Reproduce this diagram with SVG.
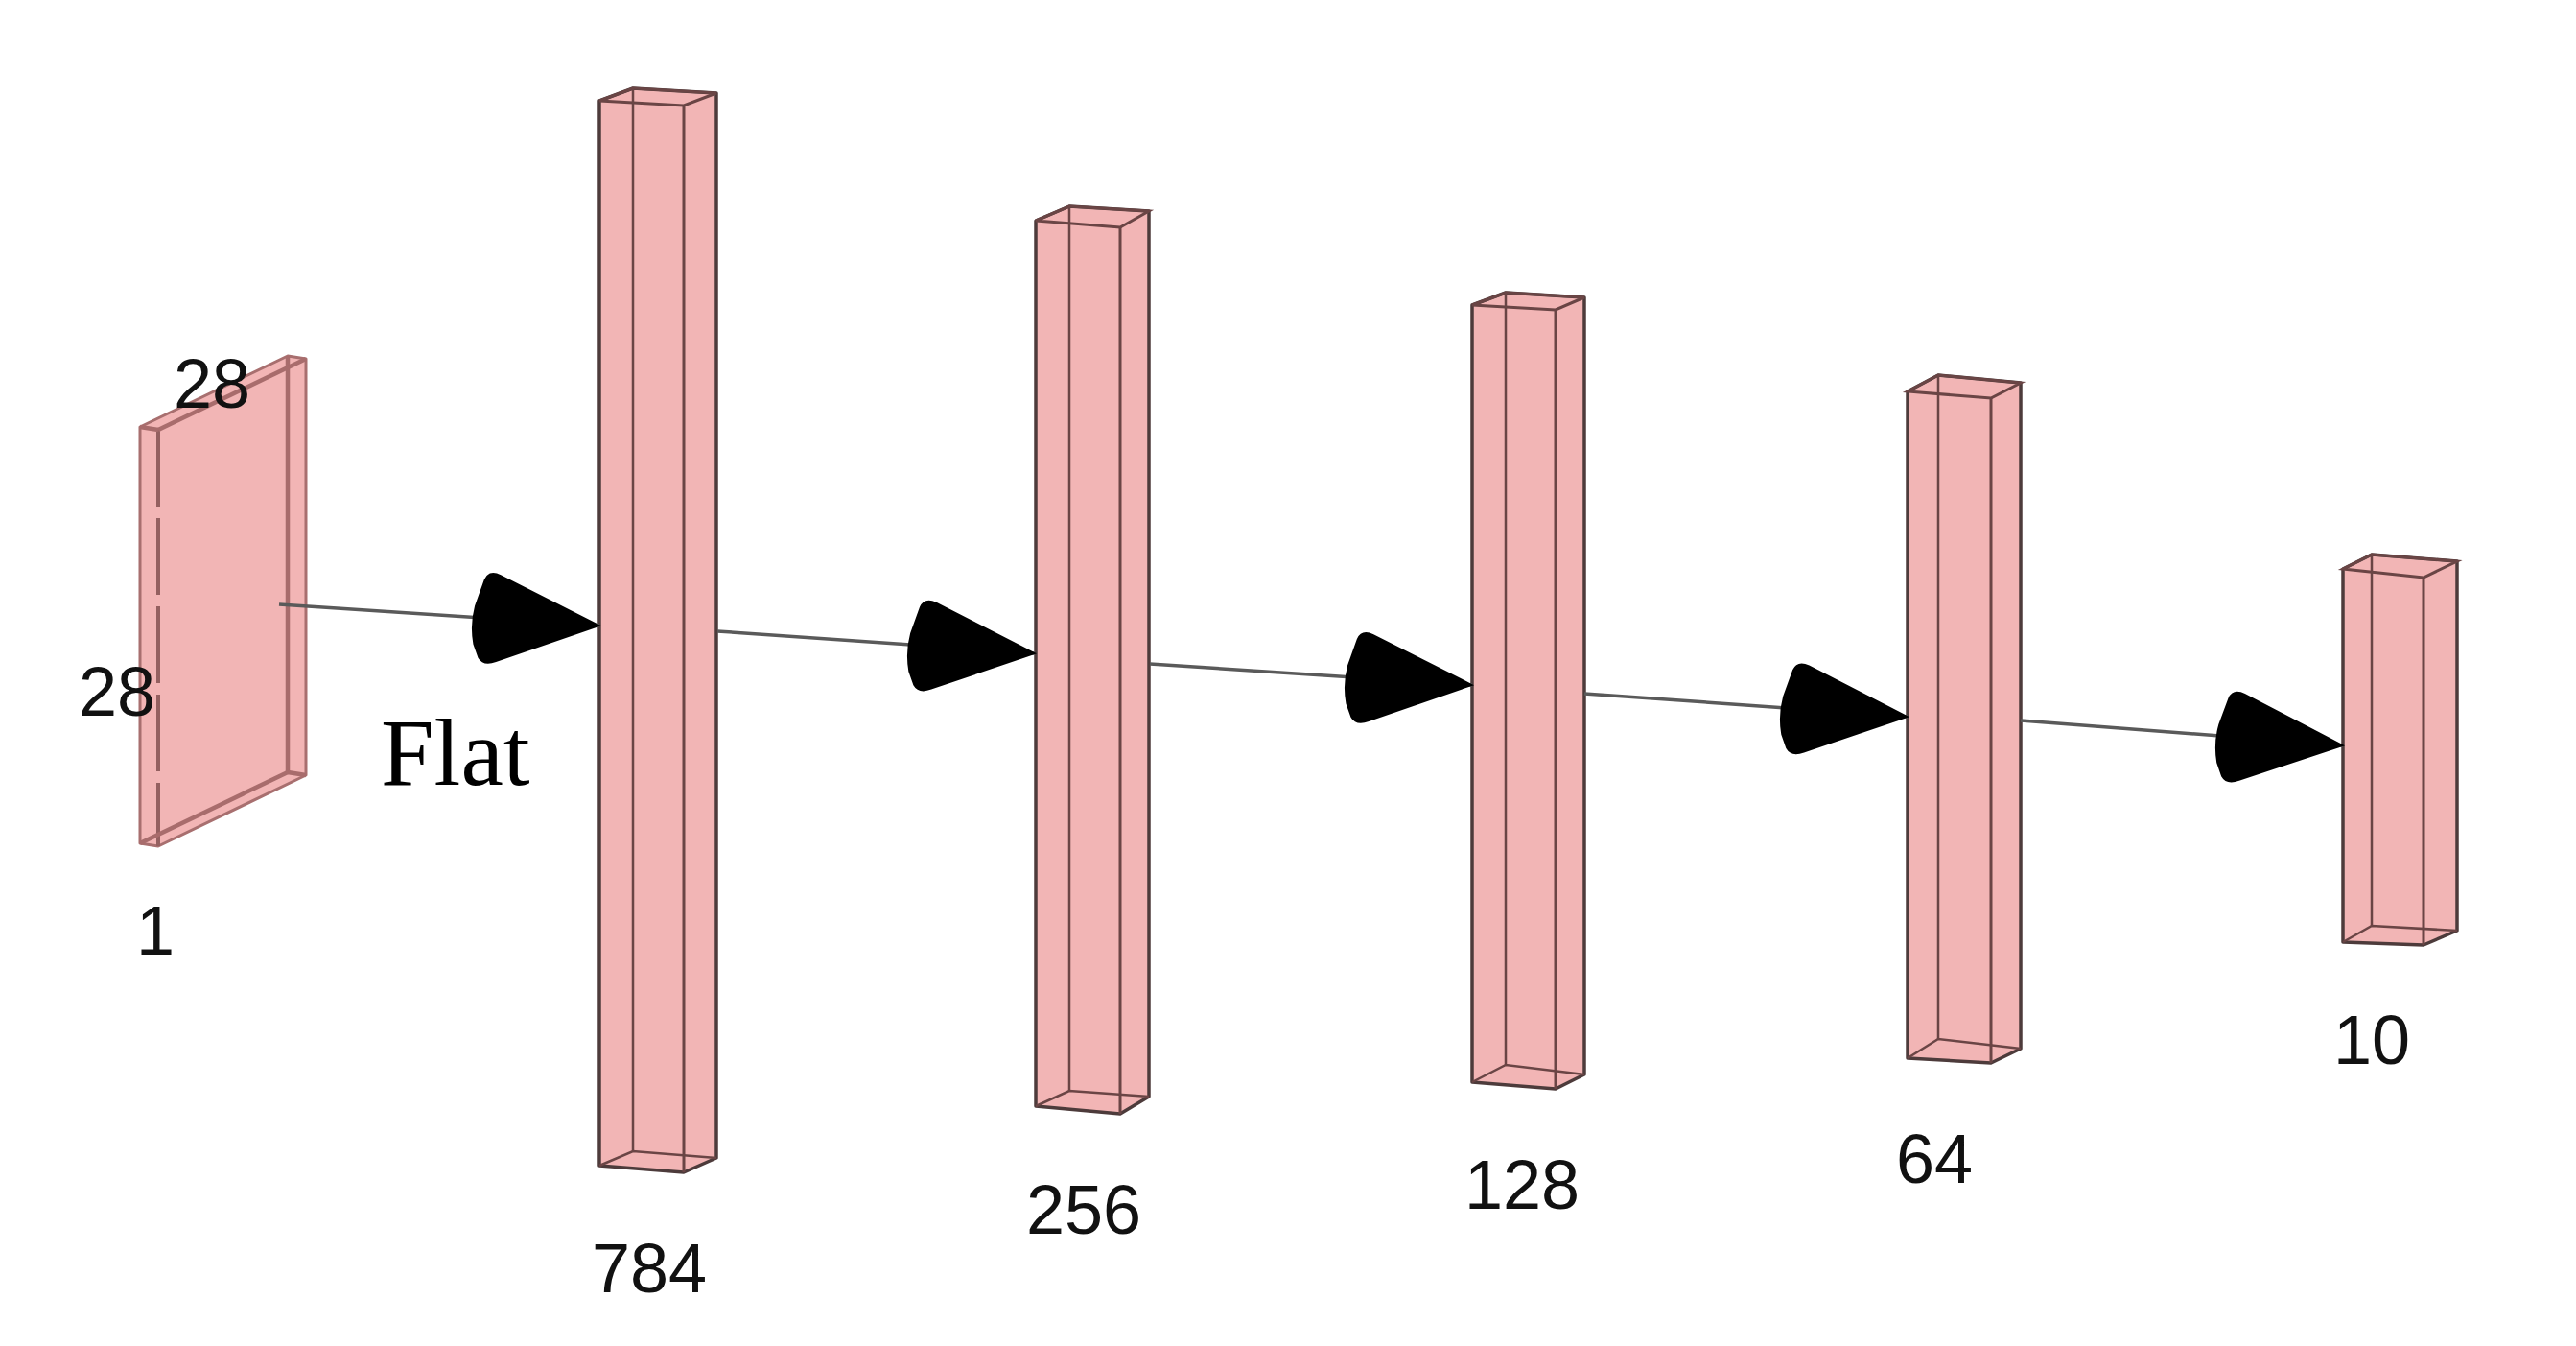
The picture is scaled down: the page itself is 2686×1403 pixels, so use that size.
<svg xmlns="http://www.w3.org/2000/svg" width="2686" height="1403" viewBox="0 0 2686 1403">
<defs>
<style>
.bg{fill:#ffffff}
.box{fill:#f2b5b5;stroke:#4d3b3b;stroke-width:3.5;stroke-linejoin:round}
.edge{fill:none;stroke:#6a4545;stroke-width:3}
.hid{fill:none;stroke:#6a4545;stroke-width:2.5}
.plate{fill:#f2b5b5;stroke:#a86f6f;stroke-width:3;stroke-linejoin:round}
.pedge{fill:none;stroke:#a86c6c;stroke-width:4.5}
.pdash{fill:none;stroke:#946060;stroke-width:4;stroke-dasharray:80 12}
.lbl{font-family:"Liberation Sans",Arial,sans-serif;font-size:72px;fill:#111}
.flat{font-family:"Liberation Serif","Times New Roman",serif;font-size:100px;fill:#000}
.conn{fill:none;stroke:#5a5a5a;stroke-width:3.5}
</style>
<marker id="head" markerUnits="userSpaceOnUse" viewBox="-140 -55 145 110" markerWidth="145" markerHeight="110" refX="0" refY="0" orient="auto" overflow="visible">
<path d="M2,0 L-106,-46 Q-119,-51 -123,-40 L-131,-12 Q-135,8 -130,28 L-124,42 Q-118,51 -105,45 Z" fill="#000"/>
</marker>
</defs>
<rect class="bg" x="0" y="0" width="2686" height="1403"/>

<g id="input">
<polygon class="plate" points="146,445 300,371 319,374 319,808 165,882 146,879"/>
<line class="pdash" x1="165" y1="448" x2="165" y2="882"/>
<line class="pedge" x1="300" y1="371" x2="300" y2="805"/>
<line class="pedge" x1="165" y1="448" x2="319" y2="374"/>
<line class="pedge" x1="146" y1="879" x2="300" y2="805"/>
<line class="pedge" x1="146" y1="445" x2="165" y2="448"/>
<line class="pedge" x1="300" y1="805" x2="319" y2="808"/>
<text class="lbl" x="181" y="425">28</text>
<text class="lbl" x="82" y="746">28</text>
<text class="lbl" x="142" y="995">1</text>
</g>

<g id="dense784">
<polygon class="box" points="625,105 660,92 747,97 747,1207 713,1222 625,1215"/>
<polygon class="edge" points="625,105 660,92 747,97 713,110"/>
<line class="edge" x1="713" y1="110" x2="713" y2="1222"/>
<line class="hid" x1="660" y1="92" x2="660" y2="1200"/>
<polyline class="hid" points="625,1215 660,1200 747,1207"/>
<text class="lbl" x="677" y="1347" text-anchor="middle">784</text>
</g>

<g id="dense256">
<polygon class="box" points="1080,230 1115,215 1198,220 1198,1143 1168,1161 1080,1153"/>
<polygon class="edge" points="1080,230 1115,215 1198,220 1168,237"/>
<line class="edge" x1="1168" y1="237" x2="1168" y2="1161"/>
<line class="hid" x1="1115" y1="215" x2="1115" y2="1137"/>
<polyline class="hid" points="1080,1153 1115,1137 1198,1143"/>
<text class="lbl" x="1130" y="1286" text-anchor="middle">256</text>
</g>

<g id="dense128">
<polygon class="box" points="1535,318 1570,305 1652,310 1652,1120 1622,1135 1535,1128"/>
<polygon class="edge" points="1535,318 1570,305 1652,310 1622,323"/>
<line class="edge" x1="1622" y1="323" x2="1622" y2="1135"/>
<line class="hid" x1="1570" y1="305" x2="1570" y2="1110"/>
<polyline class="hid" points="1535,1128 1570,1110 1652,1120"/>
<text class="lbl" x="1587" y="1260" text-anchor="middle">128</text>
</g>

<g id="dense64">
<polygon class="box" points="1989,408 2021,391 2107,399 2107,1093 2076,1108 1989,1103"/>
<polygon class="edge" points="1989,408 2021,391 2107,399 2076,415"/>
<line class="edge" x1="2076" y1="415" x2="2076" y2="1108"/>
<line class="hid" x1="2021" y1="391" x2="2021" y2="1083"/>
<polyline class="hid" points="1989,1103 2021,1083 2107,1093"/>
<text class="lbl" x="2017" y="1233" text-anchor="middle">64</text>
</g>

<g id="dense10">
<polygon class="box" points="2443,593 2473,578 2562,585 2562,970 2527,985 2443,982"/>
<polygon class="edge" points="2443,593 2473,578 2562,585 2527,602"/>
<line class="edge" x1="2527" y1="602" x2="2527" y2="985"/>
<line class="hid" x1="2473" y1="578" x2="2473" y2="965"/>
<polyline class="hid" points="2443,982 2473,965 2562,970"/>
<text class="lbl" x="2473" y="1109" text-anchor="middle">10</text>
</g>

<g id="connectors">
<line class="conn" x1="291" y1="630" x2="625" y2="652" marker-end="url(#head)"/>
<line class="conn" x1="748" y1="658" x2="1079" y2="681" marker-end="url(#head)"/>
<line class="conn" x1="1199" y1="692" x2="1535" y2="714" marker-end="url(#head)"/>
<line class="conn" x1="1652" y1="723" x2="1989" y2="747" marker-end="url(#head)"/>
<line class="conn" x1="2107" y1="751" x2="2443" y2="777" marker-end="url(#head)"/>
<text class="flat" x="397" y="818">Flat</text>
</g>
</svg>
